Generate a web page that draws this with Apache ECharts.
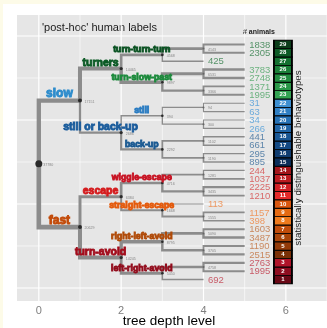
<!DOCTYPE html>
<html><head><meta charset="utf-8">
<script src="https://cdn.jsdelivr.net/npm/echarts@6/dist/echarts.min.js"></script>
<style>html,body{margin:0;padding:0;background:#fff}#c{width:327px;height:328px}</style>
</head><body><div id="c"></div>
<script>
// ---- data ----
// leaf id (behaviotype number, also its row position from the bottom)
const leafIds = [1,2,3,4,5,6,7,8,9,10,11,12,13,14,15,16,17,18,19,20,21,22,23,24,25,26,27,28,29];
// number of animals per leaf, leaf 1 first
const leafCounts = [692,1995,2763,2515,1190,3487,1603,398,1157,113,1210,2225,1037,244,895,295,661,441,266,34,63,31,1995,1371,2748,3783,425,2305,1838];
const xTickLabels = [0,2,4,6];
const gridXs = [0,1,2,3,4,5,6,7];
const gridYs = [0,5,10,15,20,25,30];
// hierarchy: named nodes are ['name',[children]], unnamed internal nodes are arrays, leaves are ids
const tree = ['root', [
  ['slow', [
    ['turners', [
      ['turn-turn-turn', [[29,28], 27]],
      ['turn-slow-past', [[26,25], [24,23]]]
    ]],
    ['still or back-up', [
      ['still', [[22,21], [20,19]]],
      ['back-up', [[18,17], [16,15]]]
    ]]
  ]],
  ['fast', [
    ['escape', [
      ['wiggle-escape', [[14,13], [12,11]]],
      ['straight-escape', [10, [9,8]]]
    ]],
    ['turn-avoid', [
      ['right-left-avoid', [[7,6], [5,4]]],
      ['left-right-avoid', [[3,2], 1]]
    ]]
  ]]
]];
const titleText = "'post-hoc' human labels";
const countHeader = '# animals';
const sideText = 'statistically distinguishable behaviotypes';
const xTitle = 'tree depth level';

// ---- styles ----
const labelColors = {
  'slow':'#2d8ccc','still or back-up':'#1a5c9c','turners':'#0b5a25','fast':'#c24a08',
  'escape':'#d41a1c','turn-avoid':'#a20d1c','turn-turn-turn':'#0a5222','turn-slow-past':'#1c8a3c',
  'still':'#2a7cc2','back-up':'#1b5a92','wiggle-escape':'#c81424','straight-escape':'#e45a0c',
  'right-left-avoid':'#b04a08','left-right-avoid':'#920c1c'
};
const leafTextColors = {
  'turn-turn-turn':'#2f7d47','turn-slow-past':'#4ea565','still':'#4b9bd8','back-up':'#3b6d9b',
  'wiggle-escape':'#d64848','straight-escape':'#ef8540','right-left-avoid':'#c2703c','left-right-avoid':'#c03848'
};
const boxPalette = ['#6a0816','#8e0d20','#b0142a','#7a3006','#923a08','#a84408','#c04c0a','#ee7a1c','#e56a12','#d9560e',
  '#e32a2a','#d02024','#bb1b20','#a3161b','#0a2e5a','#0f3c70','#144a84','#195795','#1f64a6','#2672b6','#2f7fc4','#3d8fd1',
  '#33a352','#2a9848','#218c40','#1a7f38','#137030','#0d5a26','#0b3d1a'];
const FONT = '"Liberation Sans", Arial, sans-serif';

// ---- layout ----
function build(node, depth, group) {
  if (typeof node === 'number') return {leaf:true, x:depth, y:node, id:node, count:leafCounts[node-1], group};
  let name = null, kids = node;
  if (typeof node[0] === 'string') { name = node[0]; kids = node[1]; }
  const g = (name && depth === 3) ? name : group;
  const ch = kids.map(k => build(k, depth + 1, g));
  const y = ch.reduce((s,c)=>s+c.y,0)/ch.length;
  const count = ch.reduce((s,c)=>s+c.count,0);
  return {leaf:false, name, x:depth, y, count, children:ch, group:g};
}
const root = build(tree, 0, null);
const edges = [], nodes = [], names = [], leaves = [];
(function walk(n){
  if (n.leaf) { leaves.push(n); return; }
  nodes.push(n);
  if (n.name && n.x > 0) names.push(n);
  n.children.forEach(c => {
    edges.push({coords:[[n.x,n.y],[n.x,c.y],[c.x,c.y]], lineStyle:{width: 0.9 + 0.026*Math.sqrt(c.count)}});
    walk(c);
  });
})(root);

const dotSize = [7,4,3.2,2.6,2];
const nameFont = [0,12,10.5,8.8];
const nameOff = [0,-6.5,-5.5,-5];

const chart = echarts.init(document.getElementById('c'), null, {renderer:'canvas'});
chart.setOption({
  animation:false,
  backgroundColor:'#ffffff',
  textStyle:{fontFamily:FONT},
  grid:{left:17, right:0, top:15, bottom:27, show:true, backgroundColor:'#e6e6e6', borderWidth:0},
  xAxis:{type:'value', min:-0.53, max:7.0, splitLine:{show:false}, axisLine:{show:false},
    axisTick:{show:false},
    axisLabel:{show:true, customValues:xTickLabels, color:'#7f7f7f', fontSize:11, margin:4, fontFamily:FONT}},
  yAxis:{type:'value', min:-1.55, max:32.5, show:false},
  graphic:[
    {type:'rect', shape:{x:0,y:0,width:327,height:4}, style:{fill:'#fdfbe8'}, silent:true},
    {type:'rect', shape:{x:0,y:0,width:3,height:328}, style:{fill:'#fdfbe8'}, silent:true},
    {type:'text', left:42, top:22, style:{text:titleText, font:'11px '+FONT, fill:'#1a1a1a'}},
    {type:'text', left:243, top:29, style:{text:countHeader, font:'bold 7px '+FONT, fill:'#222'}},
    {type:'text', x:298, y:158, rotation:Math.PI/2, style:{text:sideText, font:'9.8px '+FONT, fill:'#1a1a1a', align:'center', verticalAlign:'middle'}},
    {type:'text', x:169, y:321, style:{text:xTitle, font:'13.5px '+FONT, fill:'#000', align:'center', verticalAlign:'middle'}}
  ],
  series:[
    {type:'custom', silent:true, z:1,
      data: gridXs.map(v=>[v,0]).concat(gridYs.map(v=>[0,v])),
      renderItem:(params, api) => {
        const idx = params.dataIndex;
        const isX = idx < gridXs.length;
        const v = isX ? gridXs[idx] : gridYs[idx - gridXs.length];
        const major = isX ? (v % 2 === 0) : (v % 10 === 0);
        const cs = params.coordSys;
        let p1, p2;
        if (isX) { const px = api.coord([v,0])[0]; p1=[px,cs.y]; p2=[px,cs.y+cs.height]; }
        else { const py = api.coord([0,v])[1]; p1=[cs.x,py]; p2=[cs.x+cs.width,py]; }
        return {type:'line', shape:{x1:p1[0],y1:p1[1],x2:p2[0],y2:p2[1]},
          style:{stroke:'#ffffff', lineWidth: major ? 1.2 : 0.6}};
      }},
    {type:'lines', coordinateSystem:'cartesian2d', polyline:true, silent:true, z:2,
      lineStyle:{color:'#8c8c8c', opacity:1, cap:'butt', join:'miter'}, data:edges},
    {type:'scatter', silent:true, z:3,
      data: nodes.map(n=>({value:[n.x,n.y], symbolSize:dotSize[n.x], itemStyle:{color: n.x>=4?'#666':'#2a2a2a'}})),
      itemStyle:{opacity:1}},
    {type:'scatter', silent:true, z:4, symbolSize:0,
      data: nodes.map(n=>({value:[n.x,n.y], txt:String(n.count)})),
      label:{show:true, position:'inside', align:'left', offset:[4.5,1], formatter:p=>p.data.txt,
        fontSize:3.6, color:'#6e6e6e', fontFamily:FONT}},
    {type:'custom', silent:true, z:6,
      data: names.map(n=>[n.x-0.5, n.y]),
      renderItem:(params, api) => {
        const n = names[params.dataIndex];
        const p = api.coord([api.value(0), api.value(1)]);
        const c = labelColors[n.name];
        return {type:'text', x:p[0], y:p[1]+nameOff[n.x], style:{text:n.name, fill:c, stroke:c, lineWidth:0.9,
          font:'bold '+nameFont[n.x]+'px '+FONT, align:'center', verticalAlign:'middle'}};
      }},
    {type:'scatter', silent:true, z:5, symbolSize:0,
      data: leaves.map(l=>({value:[l.x,l.y], txt:String(l.count), label:{color:leafTextColors[l.group]}})),
      label:{show:true, position:'inside', align:'left', offset:[4.5,0.5], formatter:p=>p.data.txt,
        fontSize:9.5, fontFamily:FONT}},
    {type:'scatter', silent:true, z:7, symbol:'rect', symbolSize:[18,8.4],
      data: leafIds.map(id=>({value:[5.93,id], txt:String(id), itemStyle:{color:boxPalette[id-1]}})),
      itemStyle:{borderColor:'#000', borderWidth:1.3, opacity:1},
      label:{show:true, position:'inside', formatter:p=>p.data.txt, color:'#fff', fontSize:6, fontWeight:'bold', fontFamily:FONT}}
  ]
});
</script></body></html>
